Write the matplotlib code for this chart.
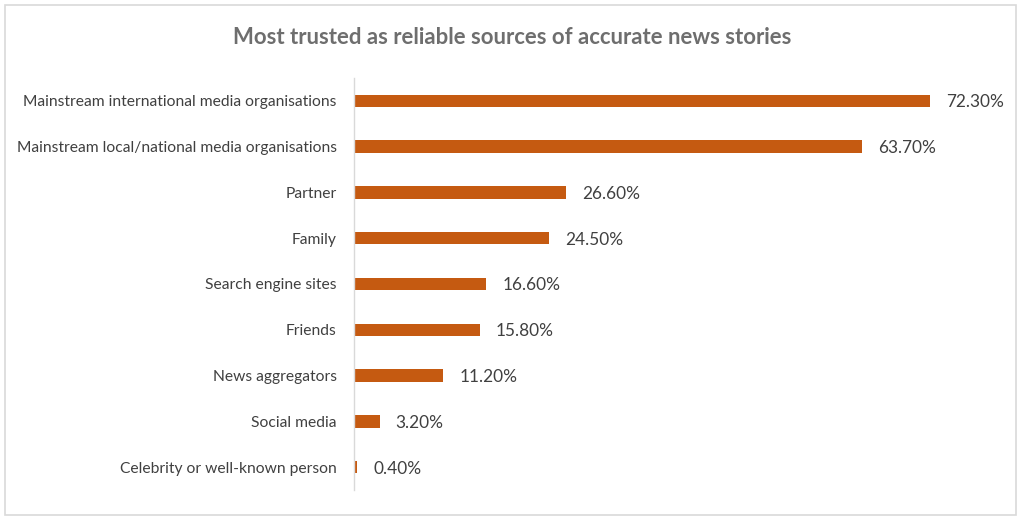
import matplotlib
matplotlib.use("Agg")
import matplotlib.pyplot as plt
from matplotlib.patches import Rectangle

categories = [
    "Mainstream international media organisations",
    "Mainstream local/national media organisations",
    "Partner",
    "Family",
    "Search engine sites",
    "Friends",
    "News aggregators",
    "Social media",
    "Celebrity or well-known person",
]
values = [72.3, 63.7, 26.6, 24.5, 16.6, 15.8, 11.2, 3.2, 0.4]
value_labels = ["72.30%", "63.70%", "26.60%", "24.50%", "16.60%", "15.80%", "11.20%", "3.20%", "0.40%"]

plt.rcParams['font.family'] = ['Lato', 'DejaVu Sans']

fig = plt.figure(figsize=(10.24, 5.2), dpi=100)
fig.patches.append(Rectangle((5/1024, 5/520), 1011/1024, 510/520, transform=fig.transFigure,
                             fill=False, edgecolor="#d9d9d9", linewidth=1.2))
ax = fig.add_axes([354/1024, 1 - 490/520, 640/1024, 412/520])

y = list(range(len(categories)))
ax.barh(y, values, height=0.27, color="#C55A11")
ax.set_ylim(len(categories) - 0.5, -0.5)
ax.set_xlim(0, 80.3)
ax.set_yticks(y)
ax.set_yticklabels(categories, fontsize=11.25, color="#404040")
ax.tick_params(axis='y', length=0, pad=12.5)
ax.set_xticks([])
for s in ["top", "right", "bottom"]:
    ax.spines[s].set_visible(False)
ax.spines["left"].set_color("#d9d9d9")
ax.spines["left"].set_linewidth(1.0)

for yi, v, lab in zip(y, values, value_labels):
    ax.annotate(lab, (v, yi), xytext=(16, -1.5), textcoords="offset pixels",
                va="center", ha="left", fontsize=12.4, color="#404040")

fig.text(0.5, 1 - 37/520, "Most trusted as reliable sources of accurate news stories",
         ha="center", va="center", fontsize=15.9, fontweight="bold", color="#6e6e6e")

fig.savefig("out.png", dpi=100)
